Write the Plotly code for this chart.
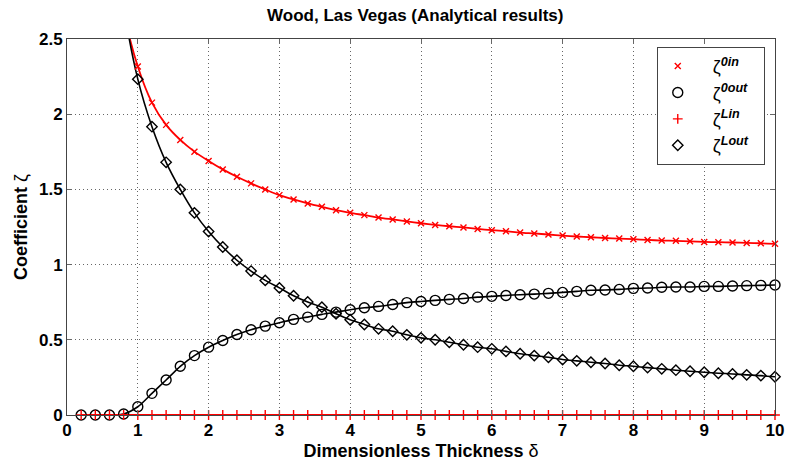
import numpy as np
import plotly.graph_objects as go

# Dimensionless thickness samples
delta = [round(0.2 * k, 1) for k in range(1, 51)]

# Coefficient values for the four analytical solutions
zeta_0in = [7.9, 4.4, 3.25, 2.68, 2.317, 2.077, 1.929, 1.829, 1.751, 1.689,
            1.633, 1.584, 1.540, 1.500, 1.462, 1.433, 1.407, 1.384, 1.362, 1.344,
            1.329, 1.313, 1.300, 1.287, 1.275, 1.264, 1.255, 1.247, 1.237, 1.229,
            1.222, 1.213, 1.207, 1.200, 1.193, 1.187, 1.182, 1.177, 1.173, 1.169,
            1.164, 1.160, 1.158, 1.155, 1.151, 1.149, 1.147, 1.144, 1.142, 1.138]

zeta_0out = [0.0, 0.0, 0.0, 0.007, 0.055, 0.144, 0.233, 0.324, 0.395, 0.451,
             0.495, 0.535, 0.567, 0.591, 0.613, 0.636, 0.651, 0.669, 0.684, 0.700,
             0.713, 0.722, 0.735, 0.747, 0.755, 0.762, 0.769, 0.775, 0.784, 0.789,
             0.795, 0.800, 0.804, 0.809, 0.815, 0.822, 0.829, 0.831, 0.835, 0.842,
             0.844, 0.849, 0.851, 0.851, 0.855, 0.855, 0.858, 0.860, 0.862, 0.864]

zeta_Lin = [0.0] * 50

zeta_Lout = [9.5, 5.0, 3.5, 2.72, 2.233, 1.917, 1.680, 1.500, 1.344, 1.220,
             1.117, 1.029, 0.957, 0.895, 0.845, 0.793, 0.751, 0.717, 0.673, 0.633,
             0.602, 0.573, 0.557, 0.533, 0.513, 0.500, 0.484, 0.467, 0.451, 0.440,
             0.423, 0.407, 0.395, 0.384, 0.369, 0.360, 0.351, 0.342, 0.331, 0.324,
             0.315, 0.307, 0.298, 0.291, 0.284, 0.278, 0.273, 0.267, 0.262, 0.254]

x_ticks = [0, 1, 2, 3, 4, 5, 6, 7, 8, 9, 10]
y_ticks = [0, 0.5, 1, 1.5, 2, 2.5]
y_max = 2.5

FONT = "Arial, Liberation Sans, sans-serif"
RED = "#ff0000"
BLACK = "#000000"
PAD = "\u00a0\u00a0\u00a0"
TAIL = "\u00a0\u00a0"

series = [
    (PAD + "ζ<sup><b><i>0in</i></b></sup>" + TAIL, zeta_0in, RED, "x-thin-open", 6, 1.8),
    (PAD + "ζ<sup><b><i>0out</i></b></sup>" + TAIL, zeta_0out, BLACK, "circle-open", 10, 1.6),
    (PAD + "ζ<sup><b><i>Lin</i></b></sup>" + TAIL, zeta_Lin, RED, "cross-thin-open", 7, 2.0),
    (PAD + "ζ<sup><b><i>Lout</i></b></sup>" + TAIL, zeta_Lout, BLACK, "diamond-open", 8, 1.6),
]

fig = go.Figure()

# smooth curves first (clipped to the axes box)
for name, vals, color, sym, size, lw in series:
    fig.add_trace(go.Scatter(
        x=delta, y=vals, mode="lines", showlegend=False, hoverinfo="skip",
        line=dict(color=color, width=lw, shape="spline", smoothing=0.8),
    ))

# markers on top; only points inside the visible range
for name, vals, color, sym, size, lw in series:
    xs = np.array(delta)
    ys = np.array(vals)
    mask = ys <= y_max
    fig.add_trace(go.Scatter(
        x=xs[mask], y=ys[mask], mode="markers", name=name, cliponaxis=False,
        marker=dict(symbol=sym, size=size, color=color,
                    line=dict(color=color, width=1.4)),
    ))

axis_common = dict(
    showline=True, linecolor="#444444", linewidth=1, mirror="ticks",
    ticks="inside", ticklen=5, tickcolor="#666666",
    showgrid=True, gridcolor="#666666", griddash="1px,3px", gridwidth=1,
    zeroline=False, automargin=False,
    tickfont=dict(family=FONT, size=17, color="black", weight="bold"),
)

fig.update_xaxes(range=[0, 10], tickvals=x_ticks, ticktext=[str(v) for v in x_ticks],
                 title=dict(text="<b>Dimensionless Thickness</b> δ", standoff=4,
                            font=dict(family=FONT, size=18, color="black")),
                 **axis_common)
fig.update_yaxes(range=[0, y_max], tickvals=y_ticks, ticktext=[f"{v:g}" for v in y_ticks],
                 title=dict(text="<b>Coefficient</b> ζ", standoff=6,
                            font=dict(family=FONT, size=18, color="black")),
                 **axis_common)

fig.update_layout(
    width=788, height=466,
    margin=dict(l=67, r=13, t=39, b=51),
    paper_bgcolor="white", plot_bgcolor="white",
    title=dict(text="<b>Wood, Las Vegas (Analytical results)</b>", x=0.527, xanchor="center",
               y=0.968, yanchor="middle",
               font=dict(family=FONT, size=17, color="black")),
    legend=dict(x=0.833, y=0.979, xanchor="left", yanchor="top",
                bgcolor="white", bordercolor="#444444", borderwidth=1,
                font=dict(family=FONT, size=18, color="black")),
    showlegend=True,
)

fig.write_html("out.html")
